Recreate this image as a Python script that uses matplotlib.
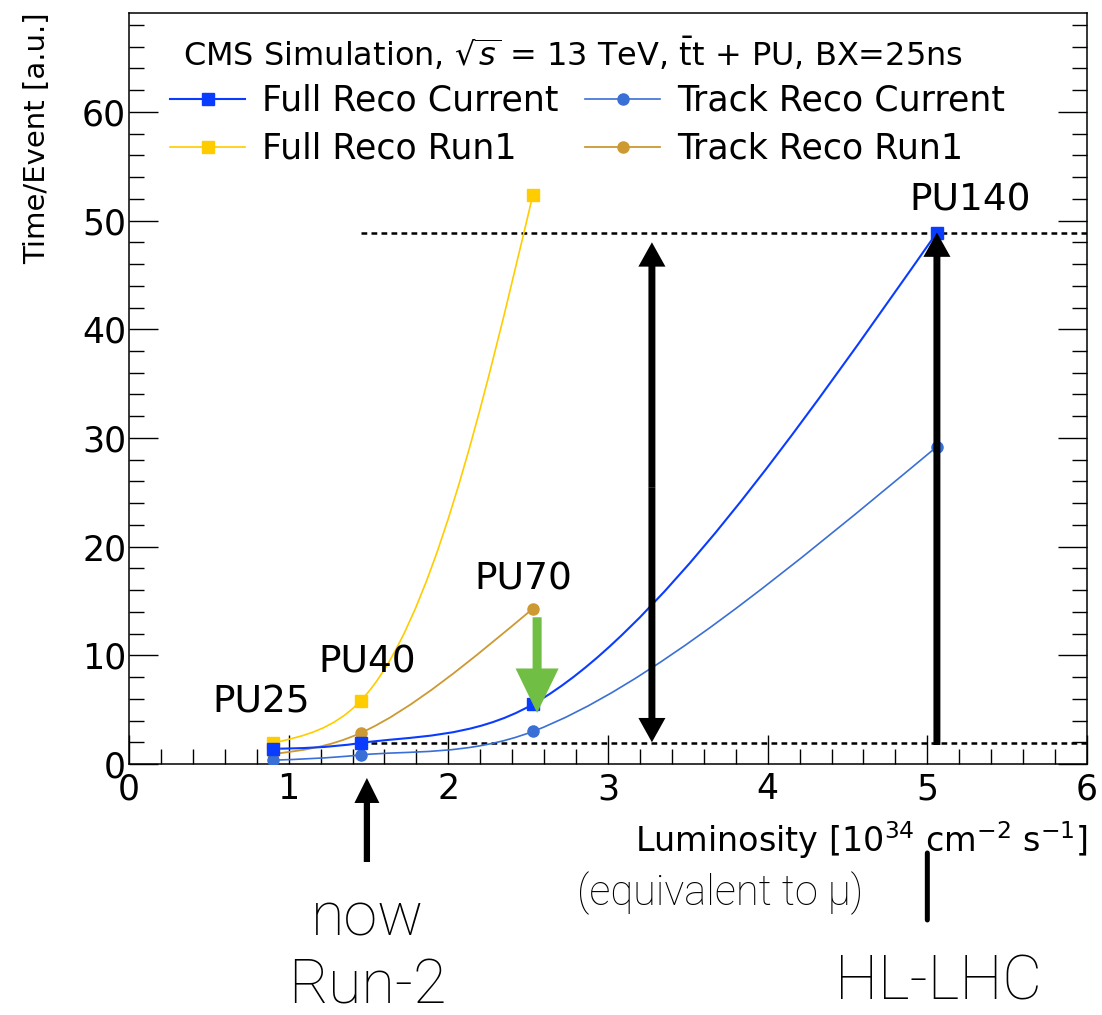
import numpy as np
import matplotlib
matplotlib.use("Agg")
import matplotlib.pyplot as plt
from matplotlib.path import Path
from matplotlib.patches import PathPatch
from matplotlib.lines import Line2D

# data
pu_labels = ["PU25", "PU40", "PU70", "PU140"]
lumi = [0.9, 1.45, 2.53, 5.06]
full_current = [1.4, 1.93, 5.5, 48.9]
track_current = [0.35, 0.83, 3.0, 29.2]
full_run1 = [1.93, 5.8, 52.4]
track_run1 = [0.92, 2.85, 14.3]

now_lumi = 1.49
hllhc_lumi = 5.0
arrow_lumi = 3.275

c_full_cur = "#0a3cff"
c_track_cur = "#3a6fd6"
c_full_run1 = "#ffcc00"
c_track_run1 = "#cc9933"
c_green = "#70be44"

plt.rcParams["font.family"] = ["DejaVu Sans"]
plt.rcParams["mathtext.fontset"] = "dejavusans"

W, H = 1102, 1015
fig = plt.figure(figsize=(W / 100, H / 100), dpi=100)
ax = fig.add_axes([129 / W, 1 - 764 / H, 958 / W, 751 / H])
xlim = (0, 6)
ylim = (0, 69.1)
ax.set_xlim(*xlim)
ax.set_ylim(*ylim)


def fx(px):
    return px / W


def fy(py):
    return 1 - py / H


def smooth_curve(xs, ys, **kw):
    # ROOT-like smooth line: centripetal Catmull-Rom in normalised axes space
    sx = xlim[1] - xlim[0]
    sy = ylim[1] - ylim[0]
    p = np.column_stack([(np.asarray(xs) - xlim[0]) / sx, (np.asarray(ys) - ylim[0]) / sy])
    n = len(p)
    d = np.sqrt(np.linalg.norm(np.diff(p, axis=0), axis=1))
    m = np.zeros_like(p)
    for i in range(1, n - 1):
        a, b = d[i - 1], d[i]
        m[i] = (b / (a + b)) * (p[i] - p[i - 1]) / a + (a / (a + b)) * (p[i + 1] - p[i]) / b
    m[0] = 1.5 * (p[1] - p[0]) / d[0] - 0.5 * m[1]
    m[-1] = 1.5 * (p[-1] - p[-2]) / d[-1] - 0.5 * m[-2]
    verts = [p[0]]
    codes = [Path.MOVETO]
    for i in range(n - 1):
        verts += [p[i] + m[i] * d[i] / 3, p[i + 1] - m[i + 1] * d[i] / 3, p[i + 1]]
        codes += [Path.CURVE4] * 3
    v = np.array(verts)
    v[:, 0] = v[:, 0] * sx + xlim[0]
    v[:, 1] = v[:, 1] * sy + ylim[0]
    ax.add_patch(PathPatch(Path(v, codes), fill=False, **kw))


smooth_curve(lumi[:3], full_run1, ec=c_full_run1, lw=1.2, zorder=3)
smooth_curve(lumi[:3], track_run1, ec=c_track_run1, lw=1.3, zorder=3)
smooth_curve(lumi, track_current, ec=c_track_cur, lw=1.2, zorder=3)
smooth_curve(lumi, full_current, ec=c_full_cur, lw=1.5, zorder=3)

ax.plot(lumi[:3], full_run1, ls="none", marker="s", ms=8.5, color=c_full_run1, zorder=4)
ax.plot(lumi[:3], track_run1, ls="none", marker="o", ms=8, color=c_track_run1, zorder=4)
ax.plot(lumi, track_current, ls="none", marker="o", ms=8, color=c_track_cur, zorder=4)
ax.plot(lumi, full_current, ls="none", marker="s", ms=8.5, color=c_full_cur, zorder=4)

# dashed reference levels (PU40 and PU140 full reco)
for lvl in (full_current[1], full_current[3]):
    ax.hlines(lvl, lumi[1], xlim[1], colors="black", lw=1.8, linestyles=(0, (2.3, 1.7)), zorder=2)

# PU labels
pu_anchor = [(lumi[0], full_run1[0]), (lumi[1], full_run1[1]), (lumi[2], track_run1[2]), (lumi[3], full_current[3])]
pu_offset = [(-8, 29), (5, 28), (-7, 21), (24, 23)]
for lab, xy, off in zip(pu_labels, pu_anchor, pu_offset):
    ax.annotate(lab, xy=xy, xytext=off, textcoords="offset points", ha="center", va="center", fontsize=27)

# arrows
black_style = "simple,head_width=1.95,head_length=1.75,tail_width=0.5"
mid = (full_current[1] + full_current[3]) / 2
for end in (48.0, 2.0):
    ax.annotate("", xy=(arrow_lumi, end), xytext=(arrow_lumi, mid),
                arrowprops=dict(arrowstyle=black_style, fc="black", ec="none", shrinkA=0, shrinkB=0), zorder=5)
ax.annotate("", xy=(lumi[3], full_current[3]), xytext=(lumi[3], 1.75),
            arrowprops=dict(arrowstyle=black_style, fc="black", ec="none", shrinkA=0, shrinkB=0), zorder=5)
ax.annotate("", xy=(2.556, 4.7), xytext=(2.556, 13.5),
            arrowprops=dict(arrowstyle="simple,head_width=3.1,head_length=3.2,tail_width=0.65",
                            fc=c_green, ec="none", shrinkA=0, shrinkB=0), zorder=6)

xt = ax.get_xaxis_transform()
ax.annotate("", xy=(now_lumi, -0.0186), xytext=(now_lumi, -0.1305), xycoords=xt, textcoords=xt,
            arrowprops=dict(arrowstyle="simple,head_width=1.8,head_length=1.8,tail_width=0.45",
                            fc="black", ec="none", shrinkA=0, shrinkB=0), annotation_clip=False)
ax.annotate("", xy=(hllhc_lumi, -0.1185), xytext=(hllhc_lumi, -0.2077), xycoords=xt, textcoords=xt,
            arrowprops=dict(arrowstyle="-", color="black", lw=3.6, shrinkA=0, shrinkB=0), annotation_clip=False)

# axes style (ROOT-like)
ax.set_xticks(range(0, 7))
ax.set_yticks(range(0, 70, 10))
ax.set_xticks(np.arange(0, 6.01, 0.2), minor=True)
ax.set_yticks(range(0, 70, 2), minor=True)
ax.tick_params(which="both", direction="in", right=True, top=False, width=1.0, labelsize=25)
ax.tick_params(which="major", length=21)
ax.tick_params(which="minor", length=11)
ax.tick_params(axis="x", pad=6)
ax.tick_params(axis="y", pad=2)
for s in ax.spines.values():
    s.set_linewidth(1.1)

# legend in two columns
h_fc = Line2D([], [], color=c_full_cur, marker="s", ms=8.5, lw=1.5, label="Full Reco Current")
h_fr = Line2D([], [], color=c_full_run1, marker="s", ms=8.5, lw=1.2, label="Full Reco Run1")
h_tc = Line2D([], [], color=c_track_cur, marker="o", ms=8, lw=1.2, label="Track Reco Current")
h_tr = Line2D([], [], color=c_track_run1, marker="o", ms=8, lw=1.3, label="Track Reco Run1")
leg_kw = dict(loc="upper left", bbox_transform=fig.transFigure, frameon=False, fontsize=25,
              handlelength=2.16, handletextpad=0.49, borderpad=0, borderaxespad=0, labelspacing=0.4)
leg1 = ax.legend(handles=[h_fc, h_fr], bbox_to_anchor=(fx(170), fy(84)), **leg_kw)
ax.add_artist(leg1)
ax.legend(handles=[h_tc, h_tr], bbox_to_anchor=(fx(585), fy(84)), **leg_kw)

fig.text(fx(183), fy(66), r"CMS Simulation, $\sqrt{s}$ = 13 TeV, $\bar{\mathrm{t}}$t + PU, BX=25ns",
         fontsize=23, va="baseline", ha="left")
fig.text(fx(37), fy(12), "Time/Event [a.u.]", rotation=90, ha="center", va="top", fontsize=21)
fig.text(fx(1088), fy(840), r"Luminosity [10$^{34}$ cm$^{-2}$ s$^{-1}$]", ha="right", va="center", fontsize=24)

light = dict(family=["Roboto", "DejaVu Sans"], fontweight="light", color="black")
fig.text(fx(577), fy(893), "(equivalent to μ)", ha="left", va="center", fontsize=30, **light)
fig.text(fx(367), fy(936), "now", ha="center", va="baseline", fontsize=44, **light)
fig.text(fx(367), fy(1003), "Run-2", ha="center", va="baseline", fontsize=44, **light)
fig.text(fx(938), fy(1000), "HL-LHC", ha="center", va="baseline", fontsize=44, **light)

fig.savefig("out.png", dpi=100)
